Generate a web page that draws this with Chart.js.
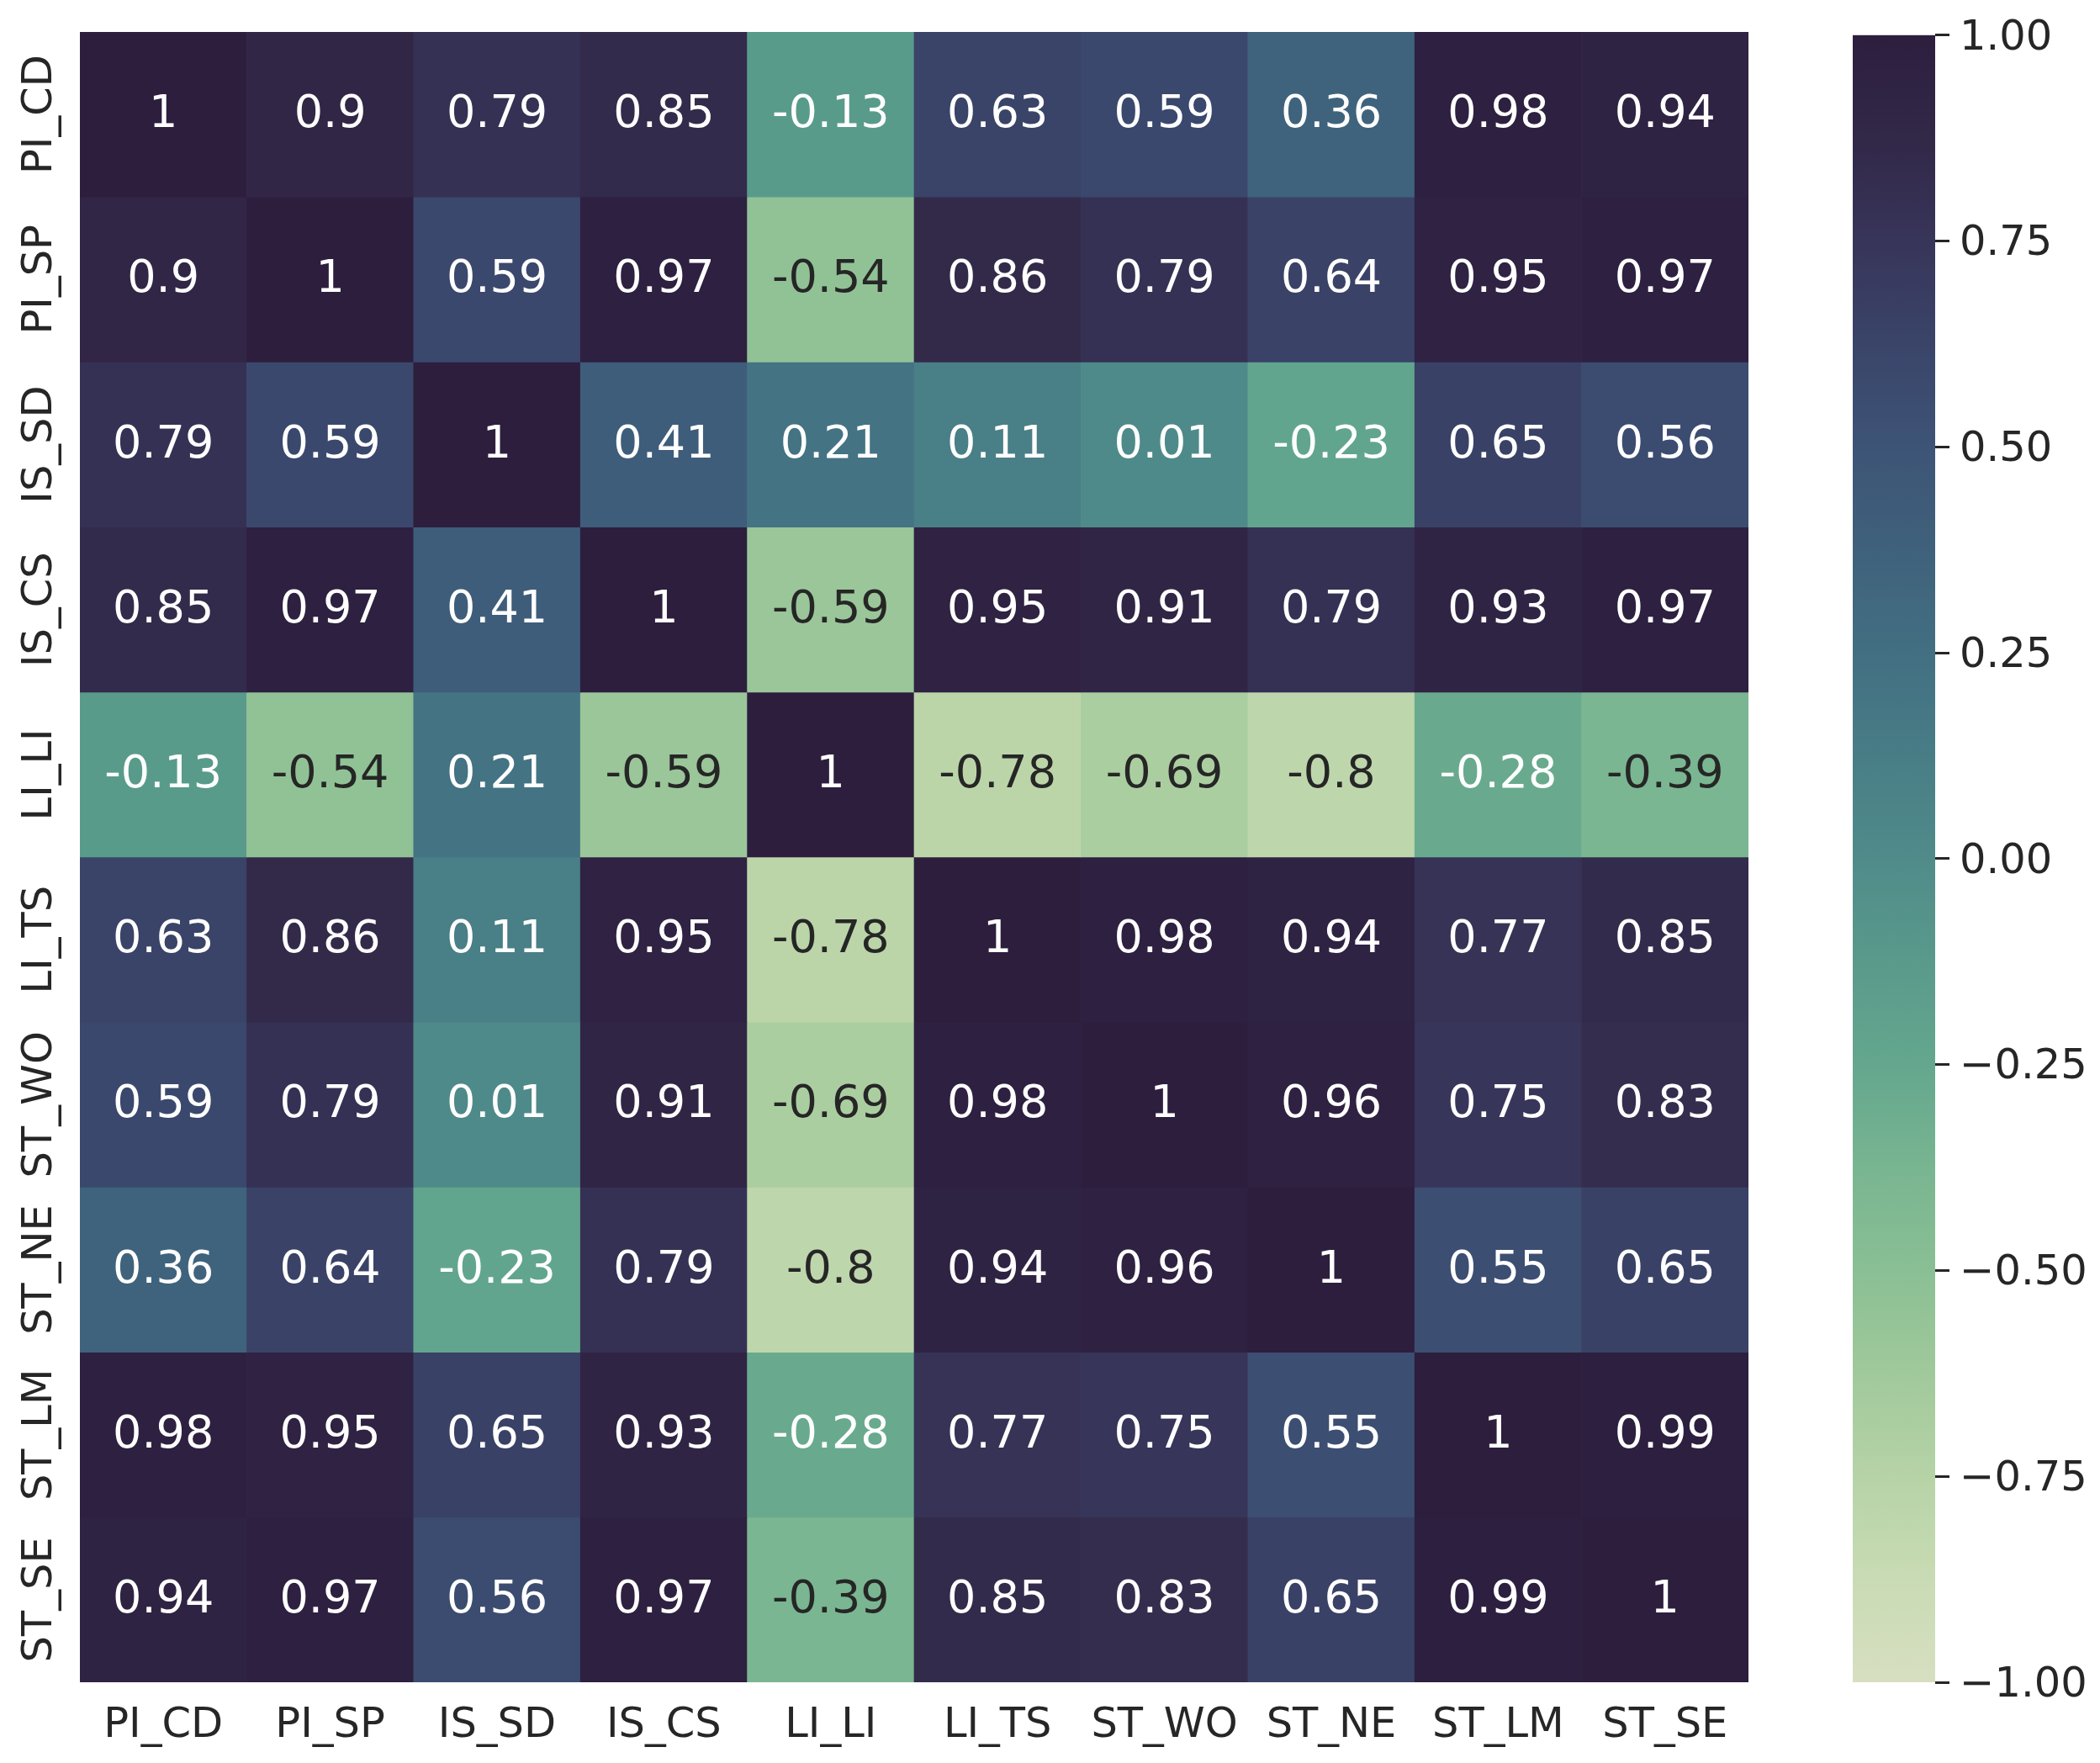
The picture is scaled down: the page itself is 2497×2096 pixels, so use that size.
<!DOCTYPE html>
<html><head><meta charset="utf-8">
<script src="https://cdn.jsdelivr.net/npm/chart.js@4.4.1/dist/chart.umd.min.js"></script>
<style>
html,body{margin:0;padding:0;background:#fff;}
#wrap{position:relative;width:2497px;height:2096px;background:#fff;}
.box{position:absolute;top:0;}
</style></head><body>
<div id="wrap">
  <div class="box" style="left:0;width:2150px;height:2096px"><canvas id="heat"></canvas></div>
  <div class="box" style="left:2150px;width:347px;height:2096px"><canvas id="cbar"></canvas></div>
</div>
<script>
// ---- data ----
const variables = ['PI_CD','PI_SP','IS_SD','IS_CS','LI_LI','LI_TS','ST_WO','ST_NE','ST_LM','ST_SE'];
const PI_CD = [1, 0.9, 0.79, 0.85, -0.13, 0.63, 0.59, 0.36, 0.98, 0.94];
const PI_SP = [0.9, 1, 0.59, 0.97, -0.54, 0.86, 0.79, 0.64, 0.95, 0.97];
const IS_SD = [0.79, 0.59, 1, 0.41, 0.21, 0.11, 0.01, -0.23, 0.65, 0.56];
const IS_CS = [0.85, 0.97, 0.41, 1, -0.59, 0.95, 0.91, 0.79, 0.93, 0.97];
const LI_LI = [-0.13, -0.54, 0.21, -0.59, 1, -0.78, -0.69, -0.8, -0.28, -0.39];
const LI_TS = [0.63, 0.86, 0.11, 0.95, -0.78, 1, 0.98, 0.94, 0.77, 0.85];
const ST_WO = [0.59, 0.79, 0.01, 0.91, -0.69, 0.98, 1, 0.96, 0.75, 0.83];
const ST_NE = [0.36, 0.64, -0.23, 0.79, -0.8, 0.94, 0.96, 1, 0.55, 0.65];
const ST_LM = [0.98, 0.95, 0.65, 0.93, -0.28, 0.77, 0.75, 0.55, 1, 0.99];
const ST_SE = [0.94, 0.97, 0.56, 0.97, -0.39, 0.85, 0.83, 0.65, 0.99, 1];
const matrix = [PI_CD, PI_SP, IS_SD, IS_CS, LI_LI, LI_TS, ST_WO, ST_NE, ST_LM, ST_SE];
const cbarMin = -1, cbarMax = 1, cbarStep = 0.25;

// ---- colormap (style) ----
const cmapPos = [-1, -0.875, -0.75, -0.625, -0.5, -0.375, -0.25, -0.125, 0, 0.125, 0.25, 0.375, 0.5, 0.625, 0.75, 0.875, 1];
const cmapHex = ['#d7dfc1','#c9dbb4','#b6d3a6','#a0c99b','#8abf94','#78b591','#64a78e','#599a8b','#508b8a','#487d86','#426f82','#3f617b','#3d5476','#3a4469','#373559','#322848','#2d1e3e'];

function hexToRgb(h){return [parseInt(h.slice(1,3),16),parseInt(h.slice(3,5),16),parseInt(h.slice(5,7),16)];}
function rgbOf(v){
  v = Math.max(cbarMin, Math.min(cbarMax, v));
  for (let i = 0; i < cmapPos.length - 1; i++) {
    if (v <= cmapPos[i+1]) {
      const t = (v - cmapPos[i]) / (cmapPos[i+1] - cmapPos[i]);
      const a = hexToRgb(cmapHex[i]), b = hexToRgb(cmapHex[i+1]);
      return a.map((c, k) => Math.round(c + (b[k] - c) * t));
    }
  }
  return hexToRgb(cmapHex[cmapHex.length-1]);
}
function colorFor(v){const c = rgbOf(v); return `rgb(${c[0]},${c[1]},${c[2]})`;}
function lum(v){
  const c = rgbOf(v).map(x => { x /= 255; return x <= 0.03928 ? x/12.92 : Math.pow((x+0.055)/1.055, 2.4); });
  return 0.2126*c[0] + 0.7152*c[1] + 0.0722*c[2];
}
const DARK = '#262626';
Chart.defaults.font.family = "'DejaVu Sans'";
Chart.defaults.color = DARK;

const annotPlugin = {
  id: 'annot',
  afterDatasetsDraw(chart) {
    const ctx = chart.ctx;
    ctx.save();
    ctx.font = "54px 'DejaVu Sans'";
    ctx.textAlign = 'center';
    ctx.textBaseline = 'middle';
    chart.data.datasets.forEach((ds, di) => {
      const meta = chart.getDatasetMeta(di);
      meta.data.forEach((bar, ci) => {
        const v = ds.values[ci];
        ctx.fillStyle = lum(v) > 0.36 ? DARK : '#ffffff';
        ctx.fillText(String(v), bar.x, (bar.y + bar.base) / 2 + 1);
      });
    });
    ctx.restore();
  }
};
const axisLabelPlugin = {
  id: 'axisLabels',
  afterDraw(chart) {
    const ctx = chart.ctx, ca = chart.chartArea;
    const xs = chart.scales.x, ys = chart.scales.y;
    ctx.save();
    ctx.font = "49.5px 'DejaVu Sans'";
    ctx.fillStyle = DARK;
    ctx.textAlign = 'center';
    ctx.textBaseline = 'alphabetic';
    variables.forEach((name, i) => {
      ctx.fillText(name, xs.getPixelForValue(i), ca.bottom + 65);
    });
    variables.forEach((name, i) => {
      ctx.save();
      ctx.translate(ca.left - 34, ys.getPixelForValue(i + 0.5));
      ctx.rotate(-Math.PI / 2);
      ctx.fillText(name, 0, 0);
      ctx.restore();
    });
    ctx.restore();
  }
};

new Chart(document.getElementById('heat'), {
  type: 'bar',
  data: {
    labels: variables,
    datasets: matrix.map((row, i) => ({
      label: variables[i],
      data: row.map(() => [i, i + 1]),
      values: row,
      backgroundColor: row.map(colorFor),
      borderWidth: 0,
      grouped: false,
      barPercentage: 1,
      categoryPercentage: 1
    }))
  },
  options: {
    responsive: true, maintainAspectRatio: false, animation: false, devicePixelRatio: 1,
    layout: {padding: {left: 95, right: 71, top: 38, bottom: 96}},
    plugins: {legend: {display: false}, tooltip: {enabled: false}},
    scales: {
      x: {type: 'category', display: false, offset: true},
      y: {type: 'linear', display: false, min: 0, max: variables.length, reverse: true}
    }
  },
  plugins: [annotPlugin, axisLabelPlugin]
});

function gradientFill(c) {
  const ch = c.chart;
  if (!ch.chartArea) return cmapHex[0];
  const ys = ch.scales.y;
  const y0 = ys.getPixelForValue(cbarMin), y1 = ys.getPixelForValue(cbarMax);
  const g = ch.ctx.createLinearGradient(0, y0, 0, y1);
  cmapPos.forEach((p, i) => g.addColorStop((p - cbarMin) / (cbarMax - cbarMin), cmapHex[i]));
  return g;
}

new Chart(document.getElementById('cbar'), {
  type: 'bar',
  data: {
    labels: [''],
    datasets: [{data: [[cbarMin, cbarMax]], backgroundColor: gradientFill, borderWidth: 0, barPercentage: 1, categoryPercentage: 1}]
  },
  options: {
    responsive: true, maintainAspectRatio: false, animation: false, devicePixelRatio: 1,
    layout: {padding: {left: 53, right: 0, top: 38, bottom: 96}},
    plugins: {legend: {display: false}, tooltip: {enabled: false}},
    scales: {
      x: {display: false, offset: true},
      y: {
        position: 'right', min: cbarMin, max: cbarMax,
        afterFit: s => { s.width = 196; },
        border: {display: false},
        grid: {display: true, drawOnChartArea: false, drawTicks: true, tickLength: 17, tickWidth: 3, tickColor: DARK},
        ticks: {
          stepSize: cbarStep, padding: 12, color: DARK, autoSkip: false, labelOffset: 4,
          font: {family: "'DejaVu Sans'", size: 49.5},
          callback: v => (v < 0 ? '\u2212' : '') + Math.abs(v).toFixed(2)
        }
      }
    }
  }
});
</script>
</body></html>
